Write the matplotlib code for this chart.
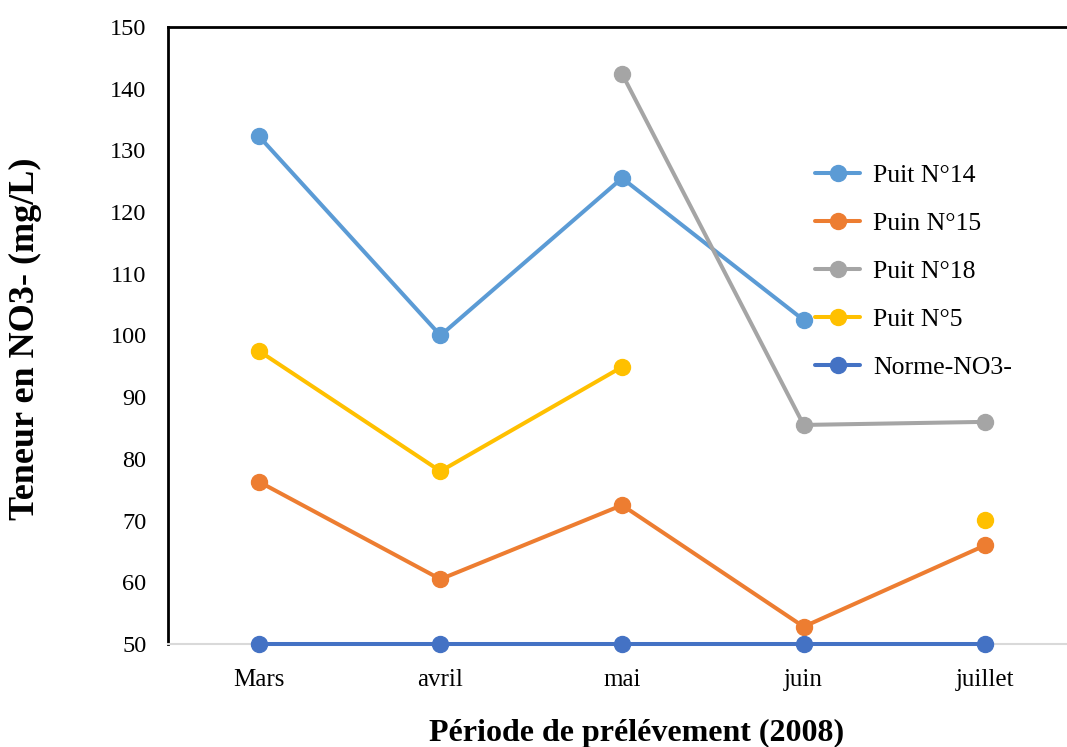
import matplotlib
matplotlib.use('Agg')
import matplotlib.pyplot as plt
import numpy as np

mois = ['Mars', 'avril', 'mai', 'juin', 'juillet']
puit14 = [132.3, 100.0, 125.5, 102.5, np.nan]
puin15 = [76.3, 60.5, 72.5, 52.8, 66.0]
puit18 = [np.nan, np.nan, 142.4, 85.5, 86.0]
puit5 = [97.5, 78.0, 94.9, np.nan, 70.1]
norme = [50, 50, 50, 50, 50]

series = [
    ('Puit N°14', puit14, '#5B9BD5'),
    ('Puin N°15', puin15, '#ED7D31'),
    ('Puit N°18', puit18, '#A5A5A5'),
    ('Puit N°5', puit5, '#FFC000'),
    ('Norme-NO3-', norme, '#4472C4'),
]

plt.rcParams['font.family'] = ['Liberation Serif', 'DejaVu Serif']

fig = plt.figure(figsize=(10.67, 7.47), dpi=100)
ax = fig.add_axes([0.1575, 0.1379, 0.851, 0.826])

x = np.arange(len(mois))
for nom, vals, col in series:
    ax.plot(x, vals, color=col, lw=2.9, marker='o', ms=11.5, label=nom,
            solid_capstyle='round', zorder=3, clip_on=False)

ax.set_xlim(-0.5, 4.5)
ax.set_ylim(50, 150)
ax.set_yticks(np.arange(50, 151, 10))
ax.set_xticks(x)
ax.set_xticklabels(mois)
ax.tick_params(length=0)
ax.tick_params(axis='y', pad=15.5, labelsize=17.5)
ax.tick_params(axis='x', pad=18, labelsize=18)

for s in ['top', 'left']:
    ax.spines[s].set_color('black')
    ax.spines[s].set_linewidth(2)
ax.spines['right'].set_visible(False)
ax.spines['bottom'].set_color('#d9d9d9')
ax.spines['bottom'].set_linewidth(1.5)

ax.set_ylabel('Teneur en NO3- (mg/L)', fontsize=26, fontweight='bold')
ax.yaxis.set_label_coords(-0.139, 0.495)
ax.set_xlabel('Période de prélévement (2008)', fontsize=23, fontweight='bold')
ax.xaxis.set_label_coords(0.516, -0.122)

ax.legend(loc='upper left', bbox_to_anchor=(0.7126, 0.778), frameon=False,
          fontsize=18.5, labelspacing=0.97, handlelength=1.75, handletextpad=0.5,
          borderpad=0, borderaxespad=0)

fig.savefig('out.png', dpi=100)
